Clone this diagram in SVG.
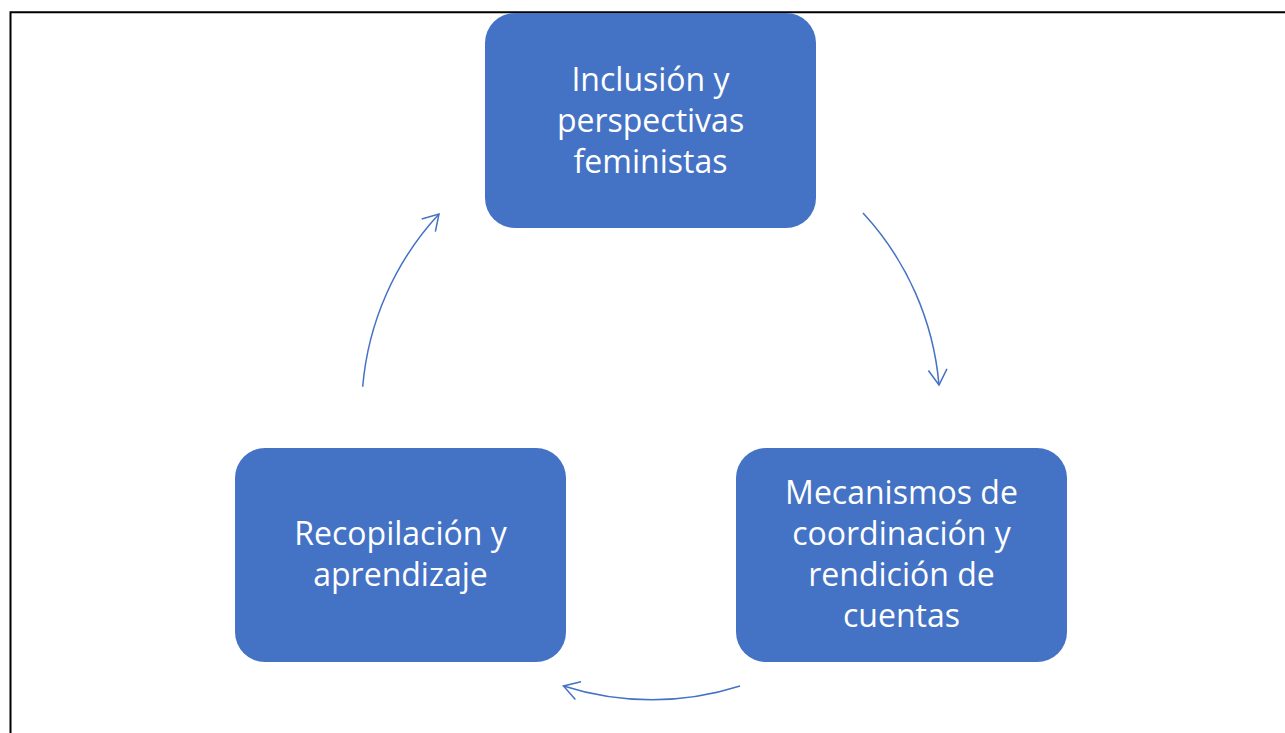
<svg xmlns="http://www.w3.org/2000/svg" width="1285" height="733" viewBox="0 0 1285 733">
  <style>
    .box { fill: #4472C4; }
    .lbl { fill: #FFFFFF; font-family: "Open Sans", "Liberation Sans", sans-serif; font-size: 32px; text-anchor: middle; }
    .conn { fill: none; stroke: #4472C4; stroke-width: 1.5; }
  </style>
  <defs>
    <marker id="chev" markerUnits="userSpaceOnUse" viewBox="-18 -12 20 24" refX="0" refY="0" markerWidth="20" markerHeight="24" orient="auto" overflow="visible">
      <path d="M-15.4,-9.3 L0,0 L-15.4,9.3" fill="none" stroke="#4472C4" stroke-width="1.5"/>
    </marker>
  </defs>
  <rect x="0" y="0" width="1285" height="733" fill="#FFFFFF"/>
  <path d="M10.5,733 V12.3 H1285" fill="none" stroke="#000000" stroke-width="2"/>

  <g id="connectors">
    <path class="conn" d="M863,213 A290,290 0 0 1 939,385" marker-end="url(#chev)"/>
    <path class="conn" d="M740,686 A290,290 0 0 1 563.5,686" marker-end="url(#chev)"/>
    <path class="conn" d="M362.7,386.7 A290,290 0 0 1 439,214" marker-end="url(#chev)"/>
  </g>

  <g id="node-inclusion">
    <rect class="box" x="485" y="13" width="331" height="215" rx="30" ry="30"/>
    <text class="lbl" x="650.5" y="90.5">Inclusión y</text>
    <text class="lbl" x="650.5" y="131.5">perspectivas</text>
    <text class="lbl" x="650.5" y="172.5">feministas</text>
  </g>

  <g id="node-mecanismos">
    <rect class="box" x="736" y="448" width="331" height="214" rx="30" ry="30"/>
    <text class="lbl" x="901.5" y="504">Mecanismos de</text>
    <text class="lbl" x="901.5" y="545">coordinación y</text>
    <text class="lbl" x="901.5" y="586">rendición de</text>
    <text class="lbl" x="901.5" y="627">cuentas</text>
  </g>

  <g id="node-recopilacion">
    <rect class="box" x="235" y="448" width="331" height="214" rx="30" ry="30"/>
    <text class="lbl" x="400.5" y="545">Recopilación y</text>
    <text class="lbl" x="400.5" y="586">aprendizaje</text>
  </g>
</svg>
